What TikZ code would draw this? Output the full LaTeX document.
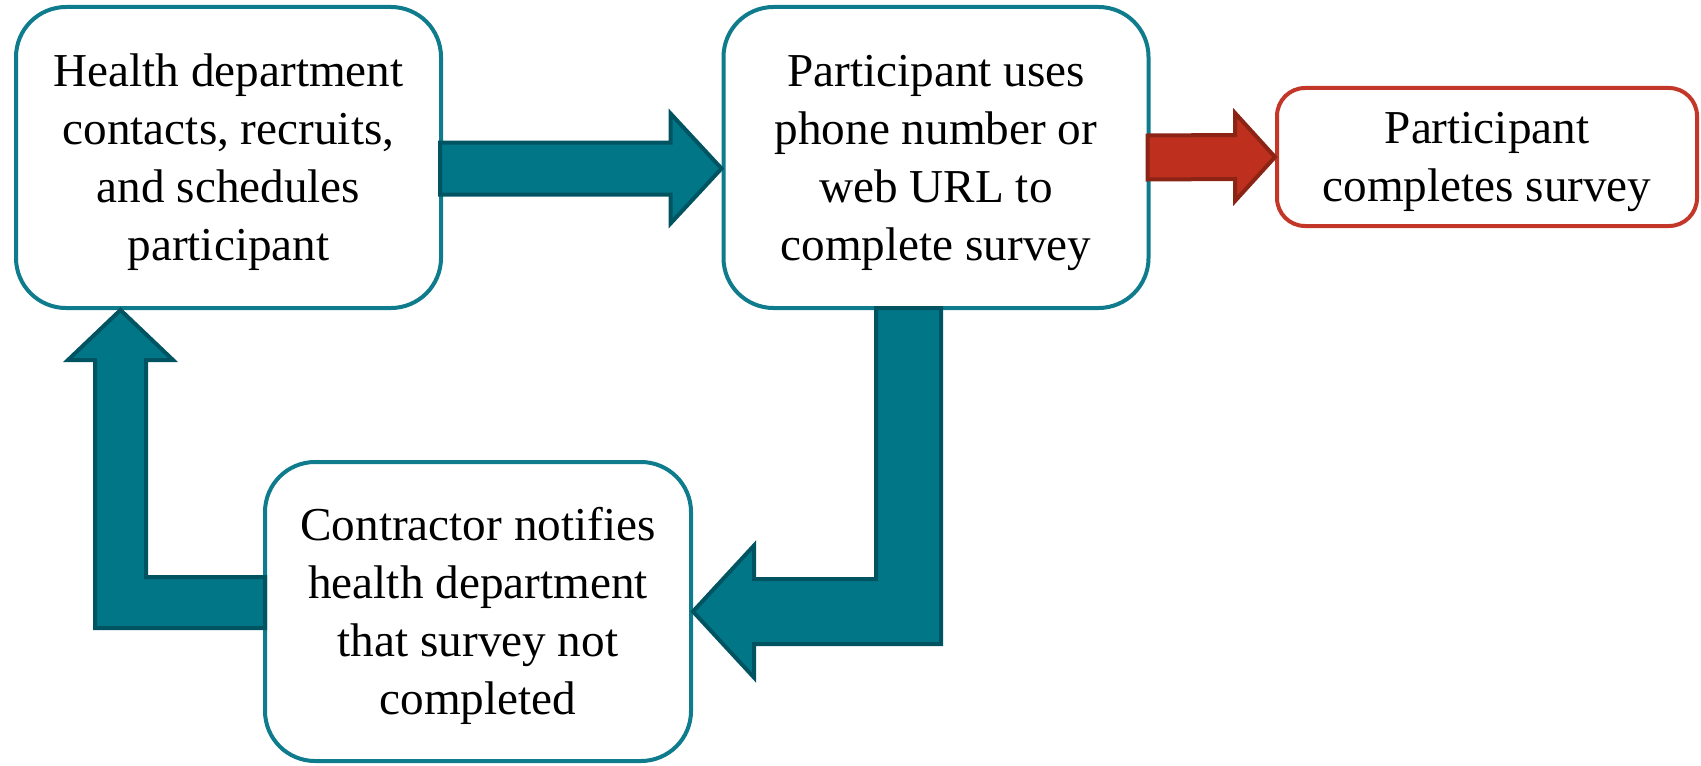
\documentclass[tikz,border=0pt]{standalone}
\usepackage{fontspec}
\setmainfont{Liberation Serif}
\usetikzlibrary{calc}
\definecolor{tealfill}{RGB}{0,118,135}
\definecolor{tealline}{RGB}{0,84,98}
\definecolor{tealbord}{RGB}{14,124,140}
\definecolor{redfill}{RGB}{190,47,30}
\definecolor{redline}{RGB}{140,36,22}
\definecolor{redbord}{RGB}{195,55,40}
\newcommand{\tstr}{\rule{0pt}{21pt}}
\begin{document}
\begin{tikzpicture}[x=0.5pt,y=-0.5pt,
  box/.style={draw=tealbord, line width=2pt, fill=white, rounded corners=25pt,
    align=center, font=\fontsize{23.6}{29}\selectfont, inner sep=0pt,
    minimum width=212.5pt, minimum height=150.5pt},
  endbox/.style={box, draw=redbord, rounded corners=14pt,
    minimum width=210pt, minimum height=69pt},
  tarrow/.style={fill=tealfill, draw=tealline, line width=2pt, line join=miter},
  rarrow/.style={fill=redfill, draw=redline, line width=2pt, line join=miter}]
\useasboundingbox (0,0) rectangle (1701,765);

\node[box] (b1) at (228.5,157.5) {\tstr Health department\\contacts, recruits,\\and schedules\\participant};
\node[box] (b2) at (936,157.5) {\tstr Participant uses\\phone number or\\web URL to\\complete survey};
\node[endbox] (b3) at (1487,157) {\tstr Participant\\completes survey};
\node[box, minimum width=213pt, minimum height=149.5pt] (b4) at (478,611.5) {\tstr Contractor notifies\\health department\\that survey not\\completed};

% arrow b1 -> b2
\coordinate (a0) at ($(b1.east)+(0,11)$);
\coordinate (a1) at ($(b2.west)+(0,11)$);
\draw[tarrow] ($(a0)+(-3,-26)$) -- ($(a1)+(-51,-26)$) -- ($(a1)+(-51,-55)$) -- (a1)
  -- ($(a1)+(-51,55)$) -- ($(a1)+(-51,26)$) -- ($(a0)+(-3,26)$) -- cycle;
% arrow b2 -> b3
\coordinate (r0) at (b2.east);
\coordinate (r1) at (b3.west);
\draw[rarrow] ($(r0)+(-3,-22)$) -- ($(r1)+(-40,-22)$) -- ($(r1)+(-40,-44)$) -- (r1)
  -- ($(r1)+(-40,44)$) -- ($(r1)+(-40,22)$) -- ($(r0)+(-3,22)$) -- cycle;
% arrow b2 -> b4
\coordinate (c0) at ($(b2.south)+(-27.5,0)$);
\coordinate (c1) at (b4.east);
\draw[tarrow] ($(c0)+(-32.5,-2)$) -- ($(c0)+(32.5,-2)$) -- ($(c0|-c1)+(32.5,32.5)$)
  -- ($(c1)+(61,32.5)$) -- ($(c1)+(61,66)$) -- (c1) -- ($(c1)+(61,-66)$)
  -- ($(c1)+(61,-32.5)$) -- ($(c0|-c1)+(-32.5,-32.5)$) -- cycle;
% arrow b4 -> b1
\coordinate (d0) at ($(b4.west)+(0,-9)$);
\coordinate (d1) at ($(b1.south)+(-108,0)$);
\draw[tarrow] ($(d0)+(2,-25.5)$) -- ($(d1|-d0)+(25.5,-25.5)$) -- ($(d1)+(25.5,50)$)
  -- ($(d1)+(52.5,50)$) -- (d1) -- ($(d1)+(-52.5,50)$) -- ($(d1)+(-25.5,50)$)
  -- ($(d1|-d0)+(-25.5,25.5)$) -- ($(d0)+(2,25.5)$) -- cycle;
\end{tikzpicture}
\end{document}
